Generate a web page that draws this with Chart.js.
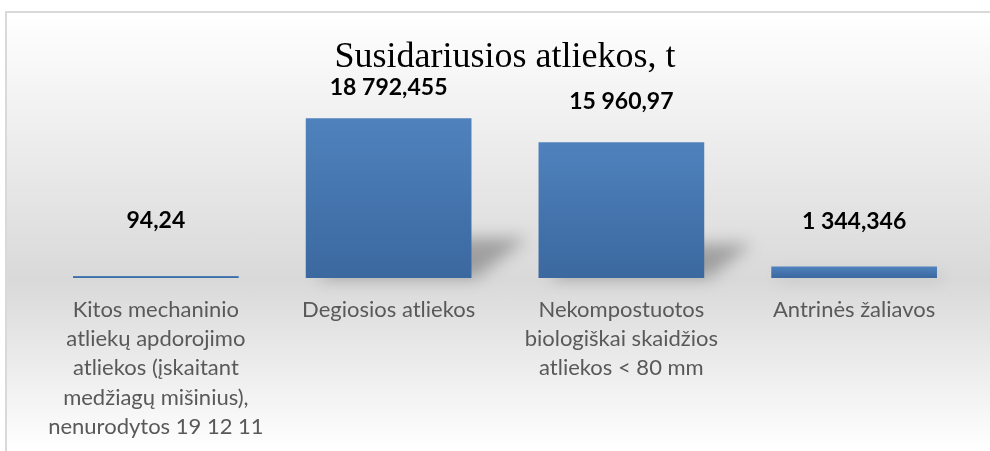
<!DOCTYPE html>
<html>
<head>
<meta charset="utf-8">
<script src="https://cdn.jsdelivr.net/npm/chart.js@4"></script>
<style>
  html, body { margin: 0; padding: 0; background: #fff; }
  #box {
    position: absolute; left: 5px; top: 11px; width: 983px; height: 438px;
    border-left: 2px solid #d9d9d9; border-top: 2px solid #d9d9d9;
    background: linear-gradient(to bottom, #ffffff 0%, #d9d9d9 61%, #ffffff 100%);
  }
</style>
</head>
<body>
<div id="box"><canvas id="myChart"></canvas></div>
<script>
var categories = [
  ["Kitos mechaninio", "atliekų apdorojimo", "atliekos (įskaitant", "medžiagų mišinius),", "nenurodytos 19 12 11"],
  ["Degiosios atliekos"],
  ["Nekompostuotos", "biologiškai skaidžios", "atliekos < 80 mm"],
  ["Antrinės žaliavos"]
];
var values = [94.24, 18792.455, 15960.97, 1344.346];
// how far each value label sits above its bar (px)
var labelLift = [55, 31, 41, 45];

function fmt(v) {
  var parts = String(v).split(".");
  var int = parts[0].replace(/\B(?=(\d{3})+(?!\d))/g, " ");
  return parts.length > 1 ? int + "," + parts[1] : int;
}

var barShadow = {
  id: "barShadow",
  beforeDatasetsDraw: function (chart) {
    var ctx = chart.ctx;
    var meta = chart.getDatasetMeta(0);
    ctx.save();
    ctx.filter = "blur(8px)";
    ctx.fillStyle = "rgba(0,0,0,0.28)";
    meta.data.forEach(function (bar) {
      var h = bar.base - bar.y;
      if (h < 5) return;
      var dy = Math.min(h * 0.25, 40);
      var dx = dy * 1.4;
      var l = bar.x - bar.width / 2, r = bar.x + bar.width / 2;
      ctx.beginPath();
      ctx.moveTo(l + 10, bar.base);
      ctx.lineTo(r + 4, bar.base);
      ctx.lineTo(r + dx, bar.base - dy);
      ctx.lineTo(l + dx, bar.base - dy);
      ctx.closePath();
      ctx.fill();
    });
    ctx.restore();
  }
};

var valueLabels = {
  id: "valueLabels",
  afterDatasetsDraw: function (chart) {
    var ctx = chart.ctx;
    var meta = chart.getDatasetMeta(0);
    ctx.save();
    ctx.font = "bold 23px Lato";
    ctx.fillStyle = "#000";
    ctx.textAlign = "center";
    ctx.textBaseline = "middle";
    meta.data.forEach(function (bar, i) {
      ctx.fillText(fmt(values[i]), bar.x, bar.y - labelLift[i]);
    });
    ctx.restore();
  }
};

var ctx = document.getElementById("myChart").getContext("2d");

var myChart = new Chart(ctx, {
  type: "bar",
  data: {
    labels: categories,
    datasets: [
      {
        data: values,
        minBarLength: 2,
        barPercentage: 0.712,
        categoryPercentage: 1,
        backgroundColor: function (c) {
          var chart = c.chart;
          if (!chart.chartArea) return "#4a7ab5";
          var y = chart.scales.y;
          var top = y.getPixelForValue(values[c.dataIndex]);
          var base = y.getPixelForValue(0);
          if (base - top < 2) top = base - 2;
          var g = chart.ctx.createLinearGradient(0, top, 0, base);
          g.addColorStop(0, "#4f82bd");
          g.addColorStop(1, "#3b689f");
          return g;
        },
      },
    ],
  },
  options: {
    responsive: true,
    maintainAspectRatio: false,
    animation: false,
    layout: { padding: { left: 32.5, right: 19.5, top: 0, bottom: 0 } },
    plugins: {
      legend: { display: false },
      tooltip: { enabled: false },
      title: {
        display: true,
        text: "Susidariusios atliekos, t",
        color: "#000",
        font: { family: "Liberation Serif", size: 36, weight: "normal" },
        padding: { top: 23.4, bottom: 28.4 },
      },
    },
    scales: {
      y: { display: false, min: 0, max: 20000 },
      x: {
        grid: { display: false, drawTicks: false },
        border: { display: false },
        afterFit: function (scale) { scale.height = 173; },
        ticks: {
          color: "#595959",
          font: { family: "Lato", size: 22, lineHeight: 1.33 },
          padding: 17,
          autoSkip: false,
          maxRotation: 0,
          minRotation: 0,
        },
      },
    },
  },
  plugins: [barShadow, valueLabels],
});
</script>
</body>
</html>
